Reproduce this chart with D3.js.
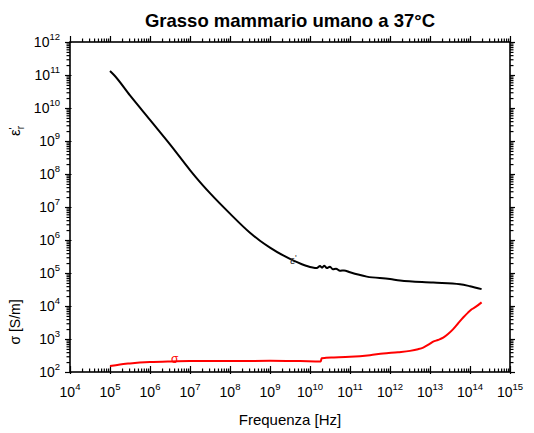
<!DOCTYPE html>
<html>
<head>
<meta charset="utf-8">
<script src="https://cdn.jsdelivr.net/npm/d3@7"></script>
<style>
  body { margin: 0; background: #fff; }
  svg { display: block; font-family: "Liberation Sans", Arial, sans-serif; }
</style>
</head>
<body>
<svg id="chart" width="534" height="433"></svg>
<script>
// Real part of relative permittivity vs frequency
const epsFreq = [1e5, 1.26e5, 3.16e5, 1e6, 1.62e6, 3.16e6, 1e7, 1.48e7, 3.16e7, 1e8, 3.16e8, 5.62e8,
  1e9, 2.14e9, 3.98e9, 7.94e9, 1.48e10, 1.78e10, 2.0e10, 2.29e10, 2.63e10, 3.16e10, 3.72e10,
  4.47e10, 5.62e10, 7.08e10, 1e11, 2.63e11, 1e12, 1.78e12, 1.2e13, 5.62e13, 1e14, 1.95e14];
const epsValue = [1.32e11, 1.0e11, 2.4e10, 4.37e9, 2.14e9, 7.94e8, 1.32e8, 7.4e7, 2.63e7, 6.3e6, 1.66e6, 9.5e5,
  5.9e5, 3.4e5, 2.34e5, 1.66e5, 1.41e5, 1.62e5, 1.45e5, 1.66e5, 1.41e5, 1.55e5, 1.29e5,
  1.35e5, 1.17e5, 1.2e5, 1.05e5, 7.76e4, 6.6e4, 5.9e4, 5.13e4, 4.57e4, 3.98e4, 3.24e4];

// Conductivity [S/m] vs frequency
const sigFreq = [1e5, 1.78e5, 3.16e5, 1e6, 3.16e6, 1e7, 1e8, 1e9, 5.62e9, 1.86e10, 1.95e10, 2.51e10,
  3.98e10, 1e11, 3.16e11, 6.76e11, 1.58e12, 3.16e12, 5.01e12, 6.76e12, 1e13, 1.2e13, 1.58e13,
  2.14e13, 2.82e13, 3.8e13, 5.01e13, 6.76e13, 8.91e13, 1.1e14, 1.41e14, 1.95e14];
const sigValue = [151, 170, 182, 200, 209, 214, 214, 219, 214, 209, 263, 269,
  275, 288, 324, 363, 398, 437, 490, 550, 724, 832, 933,
  1096, 1413, 1995, 2951, 4467, 6310, 7943, 9550, 12880];

// Decade exponents used for the tick labels
const xExponents = [4, 5, 6, 7, 8, 9, 10, 11, 12, 13, 14, 15];
const yExponents = [2, 3, 4, 5, 6, 7, 8, 9, 10, 11, 12];

const title = "Grasso mammario umano a 37°C";
const xTitle = "Frequenza [Hz]";

const svg = d3.select("#chart");
const plotLeft = 70, plotRight = 510, plotTop = 42, plotBottom = 372;

const x = d3.scaleLog().domain([1e4, 1e15]).range([plotLeft, plotRight]);
const y = d3.scaleLog().domain([1e2, 1e12]).range([plotBottom, plotTop]);

// major (decade) and minor (2..9) tick values
const xMajor = xExponents.map(e => Math.pow(10, e));
const yMajor = yExponents.map(e => Math.pow(10, e));
function minors(exps) {
  const out = [];
  exps.slice(0, -1).forEach(e => { for (let k = 2; k <= 9; k++) out.push(k * Math.pow(10, e)); });
  return out;
}
const xMinor = minors(xExponents);
const yMinor = minors(yExponents);

function drawAxis(axisGen, values, size, transform) {
  const g = svg.append("g").attr("transform", transform)
    .call(axisGen.tickValues(values).tickSize(size).tickFormat(""));
  g.select(".domain").remove();
  g.selectAll("line").attr("stroke", "#000").attr("stroke-width", 1.2);
}
// bottom: ticks point inward
drawAxis(d3.axisTop(x), xMajor, 6, `translate(0,${plotBottom})`);
drawAxis(d3.axisTop(x), xMinor, 3.5, `translate(0,${plotBottom})`);
drawAxis(d3.axisBottom(x), xMajor, 2, `translate(0,${plotBottom})`);
// top: outward
drawAxis(d3.axisTop(x), xMajor, 6, `translate(0,${plotTop})`);
drawAxis(d3.axisTop(x), xMinor, 3.5, `translate(0,${plotTop})`);
// left: outward
drawAxis(d3.axisLeft(y), yMajor, 5, `translate(${plotLeft},0)`);
drawAxis(d3.axisLeft(y), yMinor, 3.5, `translate(${plotLeft},0)`);
drawAxis(d3.axisRight(y), yMajor, 1.5, `translate(${plotLeft},0)`);
// right: outward
drawAxis(d3.axisRight(y), yMajor, 5, `translate(${plotRight},0)`);
drawAxis(d3.axisRight(y), yMinor, 3.5, `translate(${plotRight},0)`);

// frame
svg.append("rect").attr("x", plotLeft).attr("y", plotTop)
  .attr("width", plotRight - plotLeft).attr("height", plotBottom - plotTop)
  .attr("fill", "none").attr("stroke", "#000").attr("stroke-width", 1.6);

// x tick labels 10^n
svg.append("g").selectAll("text").data(xExponents).join("text")
  .attr("x", e => x(Math.pow(10, e)))
  .attr("y", 397)
  .attr("text-anchor", "middle")
  .attr("font-size", 14)
  .each(function (e) {
    const t = d3.select(this);
    t.append("tspan").text("10");
    t.append("tspan").attr("dy", -7).attr("font-size", 9.5).text(e);
  });

// y tick labels 10^n
svg.append("g").selectAll("text").data(yExponents).join("text")
  .attr("x", 60)
  .attr("y", e => y(Math.pow(10, e)) + 5)
  .attr("text-anchor", "end")
  .attr("font-size", 14)
  .each(function (e) {
    const t = d3.select(this);
    t.append("tspan").text("10");
    t.append("tspan").attr("dy", -7).attr("font-size", 9.5).text(e);
  });

// titles
svg.append("text").attr("x", (plotLeft + plotRight) / 2).attr("y", 27)
  .attr("text-anchor", "middle").attr("font-size", 18.5).attr("font-weight", "bold")
  .text(title);
svg.append("text").attr("x", (plotLeft + plotRight) / 2).attr("y", 425)
  .attr("text-anchor", "middle").attr("font-size", 15).text(xTitle);

const epsTitle = svg.append("text")
  .attr("transform", "translate(20,131) rotate(-90)")
  .attr("text-anchor", "middle").attr("font-size", 15);
epsTitle.append("tspan").text("ε");
epsTitle.append("tspan").attr("dy", -3).attr("font-size", 11).text("'");
epsTitle.append("tspan").attr("dx", -2).attr("dy", 7).attr("font-size", 10).text("r");

svg.append("text")
  .attr("transform", "translate(20,322) rotate(-90)")
  .attr("text-anchor", "middle").attr("font-size", 14)
  .text("σ [S/m]");

// curves
const line = d3.line().x(d => x(d[0])).y(d => y(d[1])).curve(d3.curveMonotoneX);
svg.append("path").datum(d3.zip(epsFreq, epsValue))
  .attr("d", line).attr("fill", "none").attr("stroke", "#000").attr("stroke-width", 2);
svg.append("path").datum(d3.zip(sigFreq, sigValue))
  .attr("d", line).attr("fill", "none").attr("stroke", "#ff0000").attr("stroke-width", 2);

// curve labels
const epsLbl = svg.append("text").attr("x", 290).attr("y", 264)
  .attr("font-size", 11).attr("fill", "#333");
epsLbl.append("tspan").text("ε");
epsLbl.append("tspan").attr("dy", -3).attr("font-size", 9).text("'");
svg.append("text").attr("x", 171).attr("y", 363)
  .attr("font-size", 12).attr("fill", "#ff0000").text("σ");
</script>
</body>
</html>
